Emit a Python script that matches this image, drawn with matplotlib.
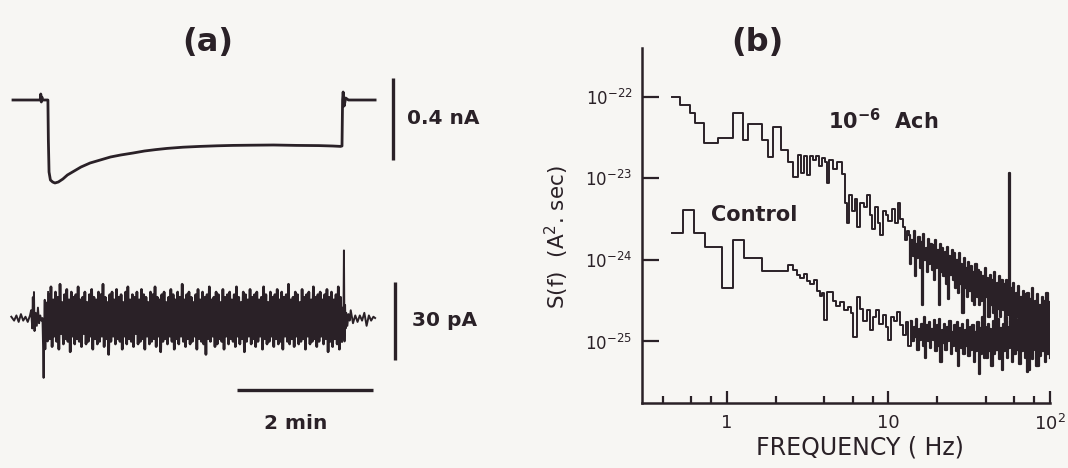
import numpy as np
import matplotlib
matplotlib.use('Agg')
import matplotlib.pyplot as plt
from matplotlib.ticker import FixedLocator, NullFormatter

# 墨色和纸色
INK = '#2a2127'
PAPER = '#f7f6f3'

# ---------------- (a) 上：Ach 电流 (nA)，时间 (s)
top_t = [0, 24, 24.5, 25, 25.5, 26, 30.8, 31.2, 31.8, 33, 35, 37, 40, 44, 48, 54, 60, 68, 77, 86,
         95, 106, 116, 126, 136, 150, 165, 180, 194, 210, 230, 250, 270, 282, 289, 290.3, 290.8,
         291.3, 292.2, 293.5, 296, 319.5]
top_i = [0, 0, 0.03, -0.01, 0.015, 0, 0, -0.2, -0.36, -0.40, -0.41, -0.415, -0.41, -0.395, -0.375,
         -0.355, -0.335, -0.315, -0.30, -0.285, -0.275, -0.265, -0.255, -0.248, -0.242, -0.236,
         -0.232, -0.229, -0.227, -0.226, -0.225, -0.227, -0.228, -0.23, -0.232, -0.23, 0.0, 0.04,
         -0.03, 0.01, 0, 0]

# ---------------- (a) 下：电流噪声 (pA)
pre_t = [-1.5, 1, 3, 5, 7, 9, 11, 13, 15, 16, 17, 17.5, 18, 18.5, 19, 20, 21, 22, 23, 24, 25, 26,
         26.5, 27, 27.5, 28, 28.5, 29, 29.5, 30, 30.5, 31]
pre_v = [0.5, -1, 1, -1.5, 1.5, -1, 0.5, -1.5, 1, 3, -4, 8, -3, 10, -5, 2, -3, 4, -2, 1, -1, 0,
         -10, -23, -6, 7, -12, 3, -8, 6, -9, 10]
noise_on, noise_off = 31.5, 290.0
noise_hi = [9, 12, 7, 10, 8, 13, 6, 9, 11, 7, 10, 8, 9, 12, 7, 8, 10, 6, 9, 11,
            8, 7, 10, 9, 13, 8, 6, 9, 10, 7, 11, 8, 9, 6, 10, 12, 7, 9, 8, 10,
            7, 11, 9, 8, 6, 10, 9, 12, 8, 7, 9, 10, 6, 8, 11, 9, 7, 10, 8, 13,
            7, 9, 10, 8, 6, 9, 11, 7, 10, 8, 9, 12, 7, 8, 10, 9, 6, 11, 8, 9,
            10, 7, 9, 12, 8, 6, 10, 9, 7, 11, 8, 9, 10, 7, 8, 12, 9, 6, 10, 8,
            9, 11, 7, 10, 8, 9, 13, 7, 8, 10, 9, 6, 11, 8, 9, 10, 7, 12, 8, 9,
            10, 7, 9, 11, 8, 10, 7, 9, 12, 8]
noise_lo = [-8, -11, -7, -9, -12, -6, -10, -8, -9, -13, -7, -10, -8, -9, -11, -6, -10, -9, -7, -12,
            -8, -10, -9, -7, -11, -8, -14, -9, -7, -10, -8, -9, -12, -7, -10, -8, -9, -11, -6, -10,
            -9, -8, -12, -7, -10, -9, -8, -11, -7, -13, -9, -8, -10, -7, -9, -12, -8, -10, -7, -9,
            -11, -8, -10, -9, -7, -12, -8, -9, -10, -14, -8, -9, -7, -11, -10, -8, -9, -12, -7, -10,
            -8, -9, -11, -7, -10, -8, -13, -9, -7, -10, -8, -11, -9, -7, -12, -8, -10, -9, -7, -11,
            -8, -10, -9, -12, -7, -9, -10, -8, -11, -7, -10, -9, -8, -12, -7, -10, -9, -8, -11, -9,
            -7, -10, -8, -13, -9, -11, -8, -10, -12, -9]
post_t = [290.5, 291, 291.5, 292, 292.5, 293, 293.5, 294, 295, 296, 297, 298, 300, 302, 304, 306,
          308, 310, 312, 314, 316, 318, 319.5]
post_v = [-8, 4, -6, 26, -9, 5, -4, 2, -3, 1.5, -1, 3, -2, 1, -1.5, 1, -1, 2, -3, 1, -1, 0.5, 0]

# ---------------- (b) 功率谱 log10 S(f)
ach_f_low = [0.46, 0.51, 0.59, 0.634, 0.72, 0.88, 1.09, 1.26, 1.35, 1.65, 1.79, 1.93, 2.16, 2.39,
             2.56, 2.75, 2.87, 3.0, 3.13, 3.27, 3.41, 3.56, 3.71, 3.87, 4.04, 4.16, 4.28, 4.53,
             4.80, 5.16, 5.39, 5.54, 5.69, 5.94, 6.2, 6.38, 6.66, 7.05, 7.37, 7.69, 7.92, 8.24,
             8.6, 8.85, 9.2, 9.6, 10.0, 10.5, 11.0, 11.4, 11.8, 12.3, 12.6, 13.0]
ach_s_low = [-22.00, -22.10, -22.20, -22.32, -22.57, -22.50, -22.20, -22.53, -22.33, -22.53,
             -22.74, -22.37, -22.65, -22.80, -22.98, -22.71, -22.93, -22.72, -22.96, -22.73,
             -22.78, -22.72, -22.85, -22.75, -22.80, -23.06, -22.78, -22.88, -22.80, -22.95,
             -23.30, -23.55, -23.20, -23.40, -23.25, -23.60, -23.30, -23.35, -23.20, -23.45,
             -23.62, -23.35, -23.55, -23.70, -23.40, -23.45, -23.52, -23.38, -23.55, -23.30,
             -23.50, -23.60, -23.75, -23.65]
ach_hi = [-23.70, -23.75, -23.65, -23.80, -23.72, -23.78, -23.68, -23.85, -23.74, -23.80,
          -23.82, -23.76, -23.88, -23.80, -23.85, -23.90, -23.84, -23.95, -23.88, -23.92,
          -24.00, -23.92, -24.05, -23.98, -24.10, -24.02, -24.08, -24.15, -24.05, -24.12,
          -24.15, -24.20, -24.10, -24.22, -24.18, -24.25, -24.15, -24.28, -24.20, -24.25,
          -24.30, -24.25, -22.93, -24.35, -24.28, -24.40, -24.32, -24.45, -24.38, -24.42,
          -24.40, -24.48, -24.35, -24.50, -24.42, -24.55, -24.45, -24.50, -24.40, -24.52]
ach_lo = [-24.05, -23.95, -24.20, -23.98, -24.10, -24.55, -24.00, -24.15, -24.05, -24.12,
          -24.25, -24.10, -24.55, -24.15, -24.20, -24.30, -24.48, -24.18, -24.25, -24.35,
          -24.40, -24.30, -24.65, -24.35, -24.45, -24.38, -24.50, -24.55, -24.45, -24.55,
          -24.50, -25.20, -24.45, -24.70, -24.55, -24.65, -25.10, -24.60, -24.70, -24.62,
          -24.75, -24.68, -24.80, -24.72, -24.85, -24.70, -24.95, -24.78, -24.85, -24.80,
          -25.35, -24.90, -24.85, -25.30, -24.88, -25.05, -24.92, -25.00, -24.90, -24.95]

ctl_f_low = [0.46, 0.535, 0.625, 0.73, 0.93, 1.09, 1.27, 1.65, 2.4, 2.55, 2.71, 2.85, 3.0, 3.15,
             3.27, 3.45, 3.6, 3.76, 3.88, 4.0, 4.16, 4.53, 4.75, 5.0, 5.3, 5.6, 5.85, 6.0, 6.4,
             6.7, 7.0, 7.4, 7.7, 8.0, 8.4, 8.8, 9.2, 9.6, 9.9, 10.3, 10.8, 11.3, 11.8, 12.3,
             12.8, 13.3]
ctl_s_low = [-23.67, -23.39, -23.67, -23.84, -24.34, -23.75, -23.98, -24.13, -24.06, -24.12,
             -24.18, -24.22, -24.17, -24.26, -24.30, -24.25, -24.38, -24.44, -24.40, -24.74,
             -24.39, -24.50, -24.56, -24.52, -24.62, -24.58, -24.65, -24.94, -24.45, -24.60,
             -24.75, -24.62, -24.86, -24.70, -24.62, -24.78, -24.68, -24.82, -24.98, -24.70,
             -24.75, -24.64, -24.80, -24.92, -24.76, -25.05]
ctl_hi = [-24.75, -24.82, -24.72, -24.85, -24.78, -24.70, -24.80, -24.76, -24.85, -24.74,
          -24.80, -24.72, -24.86, -24.78, -24.82, -24.75, -24.88, -24.80, -24.76, -24.84,
          -24.78, -24.86, -24.74, -24.82, -24.80, -24.88, -24.76, -24.84, -24.70, -24.82,
          -24.78, -24.85, -24.75, -24.80, -24.72, -24.84, -24.78, -24.70, -24.82, -24.75,
          -24.68, -24.80, -24.72, -24.78, -24.65, -24.76, -24.70, -24.80, -24.68, -24.74,
          -24.70, -24.78, -24.66, -24.75, -24.72]
ctl_lo = [-25.00, -24.95, -25.10, -24.98, -25.05, -25.20, -25.00, -25.08, -24.98, -25.12,
          -25.05, -25.25, -25.02, -25.10, -25.00, -25.15, -25.05, -25.12, -25.30, -25.08,
          -25.15, -25.05, -25.18, -25.10, -25.25, -25.12, -25.40, -25.15, -25.08, -25.20,
          -25.12, -25.30, -25.15, -25.10, -25.22, -25.35, -25.12, -25.20, -25.08, -25.25,
          -25.15, -25.10, -25.28, -25.12, -25.20, -25.38, -25.15, -25.22, -25.10, -25.30,
          -25.18, -25.12, -25.25, -25.15, -25.20]

x_major = [1, 10, 100]
x_major_labels = ['1', '10', r'$10^2$']
x_minor = [0.4, 0.6, 0.8, 2, 4, 6, 8, 20, 40, 60, 80]
y_major = [1e-22, 1e-23, 1e-24, 1e-25]

W, H = 1068, 468


def fx(px):
    return px / W


def fy(py):
    return 1 - py / H


def zigzag(hi, lo):
    # 上下包络交替连接
    return list(np.column_stack([hi, lo]).ravel())


plt.rcParams['font.family'] = ['DejaVu Sans']
fig = plt.figure(figsize=(W / 100, H / 100), dpi=100, facecolor=PAPER)

# ================= (a)
px_per_s = 136 / 120.0
t0 = -13 / px_per_s
t1 = (500 - 13) / px_per_s

ax1 = fig.add_axes([0, fy(195), fx(500), (195 - 70) / H])
ax1.set_xlim(t0, t1)
ax1.set_ylim(-0.475, 0.15)
ax1.axis('off')
ax1.plot(top_t, top_i, color=INK, lw=2.0, solid_joinstyle='round')
ax1.plot([335.4, 335.4], [0.11, -0.30], color=INK, lw=2.4, solid_capstyle='butt')
ax1.text(347.7, -0.09, '0.4 nA', color=INK, fontsize=14.5, fontweight='bold', va='center', ha='left')

ax2 = fig.add_axes([0, fy(440), fx(500), (440 - 240) / H])
ax2.set_xlim(t0, t1)
ax2.set_ylim(-46.9, 30)
ax2.axis('off')
noise_v = zigzag(noise_hi, noise_lo)
noise_t = list(np.linspace(noise_on, noise_off, len(noise_v)))
ax2.plot(pre_t, pre_v, color=INK, lw=1.4)
ax2.plot(noise_t, noise_v, color=INK, lw=1.9)
ax2.plot(post_t, post_v, color=INK, lw=1.4)
ax2.plot([337.2, 337.2], [13.8, -16.2], color=INK, lw=2.4, solid_capstyle='butt')
ax2.text(352, -0.8, '30 pA', color=INK, fontsize=14.5, fontweight='bold', va='center', ha='left')
ax2.plot([197.7, 197.7 + 60 * 2], [-27.7, -27.7], color=INK, lw=2.4, solid_capstyle='butt')
ax2.text(249, -40.4, '2 min', color=INK, fontsize=14.5, fontweight='bold', va='center', ha='center')

fig.text(fx(208), fy(42), '(a)', fontsize=23, fontweight='bold', color=INK, ha='center', va='center')
fig.text(fx(757), fy(42), '(b)', fontsize=23, fontweight='bold', color=INK, ha='center', va='center')

# ================= (b)
ax = fig.add_axes([fx(642), fy(403), (1050 - 642) / W, (403 - 48) / H])
ax.set_facecolor('none')
ax.set_xscale('log')
ax.set_yscale('log')

ach_fd = list(np.geomspace(13.4, 100, 2 * len(ach_hi)))
ctl_fd = list(np.geomspace(13.8, 100, 2 * len(ctl_hi)))
ax.plot(ach_f_low + ach_fd[:1], 10.0 ** np.array(ach_s_low + ach_hi[:1]),
        drawstyle='steps-post', color=INK, lw=1.4)
ax.plot(ach_fd, 10.0 ** np.array(zigzag(ach_hi, ach_lo)), drawstyle='steps-post', color=INK, lw=1.6)
ax.plot(ctl_f_low + ctl_fd[:1], 10.0 ** np.array(ctl_s_low + ctl_hi[:1]),
        drawstyle='steps-post', color=INK, lw=1.4)
ax.plot(ctl_fd, 10.0 ** np.array(zigzag(ctl_hi, ctl_lo)), drawstyle='steps-post', color=INK, lw=1.6)

ax.set_xlim(0.298, 100)
ax.set_ylim(10 ** -25.755, 10 ** -21.40)
for s in ['top', 'right']:
    ax.spines[s].set_visible(False)
for s in ['left', 'bottom']:
    ax.spines[s].set_linewidth(1.8)
    ax.spines[s].set_color(INK)

ax.xaxis.set_major_locator(FixedLocator(x_major))
ax.xaxis.set_minor_locator(FixedLocator(x_minor))
ax.set_xticklabels(x_major_labels)
ax.xaxis.set_minor_formatter(NullFormatter())
ax.yaxis.set_major_locator(FixedLocator(y_major))
ax.yaxis.set_minor_locator(FixedLocator([]))
ax.tick_params(axis='x', which='major', direction='in', length=9, width=1.6, color=INK,
               labelsize=13, labelcolor=INK, pad=8)
ax.tick_params(axis='x', which='minor', direction='in', length=5, width=1.6, color=INK)
ax.tick_params(axis='y', which='major', direction='in', length=12, width=1.6, color=INK,
               labelsize=12, labelcolor=INK, pad=7)

fig.text(fx(828), fy(121), r'10$^{\mathbf{-6}}$  Ach', fontsize=15, fontweight='bold', color=INK,
         ha='left', va='center')
fig.text(fx(711), fy(215), 'Control', fontsize=15, fontweight='bold', color=INK,
         ha='left', va='center')
fig.text(fx(557), fy(237), r'S(f)  (A$^2$. sec)', fontsize=15.5, color=INK, rotation=90,
         ha='center', va='center')
fig.text(fx(860), fy(447), 'FREQUENCY ( Hz)', fontsize=17, color=INK, ha='center', va='center')

fig.savefig('out.png', dpi=100, facecolor=PAPER)
